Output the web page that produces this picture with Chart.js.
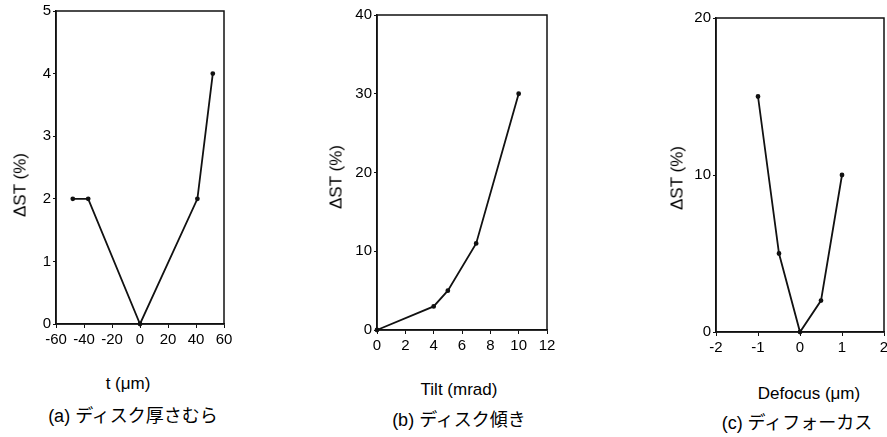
<!DOCTYPE html>
<html>
<head>
<meta charset="utf-8">
<script src="https://cdn.jsdelivr.net/npm/chart.js@4"></script>
<style>
  body { margin: 0; background: #fff; width: 887px; height: 437px; overflow: hidden; position: relative; font-family: "Liberation Sans", Arial, sans-serif; color: #000; }
  .box { position: absolute; }
  .lbl { position: absolute; font-size: 17px; line-height: 1; white-space: nowrap; transform: translateX(-50%); }
  .ylbl { position: absolute; font-size: 17px; line-height: 1; white-space: nowrap; transform: translate(-50%, -50%) rotate(-90deg); }
  .cap { position: absolute; font-size: 18px; line-height: 1; white-space: nowrap; transform: translateX(-50%); font-family: "Liberation Sans", "Noto Sans CJK JP", sans-serif; }
</style>
</head>
<body>
<div class="box" style="left:0px;top:0px;width:240px;height:345px"><canvas id="chartA"></canvas></div>
<div class="box" style="left:320px;top:0px;width:240px;height:351px"><canvas id="chartB"></canvas></div>
<div class="box" style="left:660px;top:0px;width:240px;height:353px"><canvas id="chartC"></canvas></div>

<div class="ylbl" style="left:20px;top:185px">ΔST (%)</div>
<div class="ylbl" style="left:336px;top:177px">ΔST (%)</div>
<div class="ylbl" style="left:677px;top:178px">ΔST (%)</div>

<div class="lbl" style="left:128px;top:375px">t (μm)</div>
<div class="lbl" style="left:459px;top:381px">Tilt (mrad)</div>
<div class="lbl" style="left:809px;top:385px">Defocus (μm)</div>

<div class="cap" style="left:133px;top:407px">(a) ディスク厚さむら</div>
<div class="cap" style="left:459px;top:411px">(b) ディスク傾き</div>
<div class="cap" style="left:797px;top:414px">(c) ディフォーカス</div>

<script>
// (a) ディスク厚さむら
const thicknessX = [-48, -37, 0, 41, 52];
const thicknessST = [2, 2, 0, 2, 4];
// (b) ディスク傾き
const tiltX = [0, 4, 5, 7, 10];
const tiltST = [0, 3, 5, 11, 30];
// (c) ディフォーカス
const defocusX = [-1, -0.5, 0, 0.5, 1];
const defocusST = [15, 5, 0, 2, 10];

const tickFont = { family: '"Liberation Sans", Arial, sans-serif', size: 15 };

// marco alrededor del área del gráfico
const framePlugin = {
    id: 'frame',
    afterDraw(chart) {
        const a = chart.chartArea;
        const ctx = chart.ctx;
        ctx.save();
        ctx.strokeStyle = '#111';
        ctx.lineWidth = 1.5;
        ctx.strokeRect(a.left, a.top, a.right - a.left, a.bottom - a.top);
        ctx.restore();
    }
};

function makeChart(id, xs, ys, xMin, xMax, xStep, yMax, yStep, yWidth, pad) {
    const ctx = document.getElementById(id).getContext('2d');
    return new Chart(ctx, {
        type: 'scatter',
        data: {
            datasets: [{
                data: xs.map((x, i) => ({ x: x, y: ys[i] })),
                showLine: true,
                borderColor: '#111',
                backgroundColor: '#111',
                borderWidth: 1.8,
                pointRadius: 1.5,
                pointHoverRadius: 1.5,
                clip: false
            }]
        },
        options: {
            responsive: true,
            maintainAspectRatio: false,
            animation: false,
            layout: { padding: pad },
            plugins: { legend: { display: false }, tooltip: { enabled: false } },
            scales: {
                x: {
                    type: 'linear', min: xMin, max: xMax,
                    ticks: { stepSize: xStep, color: '#000', font: tickFont, padding: 3, maxRotation: 0, autoSkip: false },
                    grid: { drawOnChartArea: false, tickLength: 4, color: '#111' },
                    border: { color: '#111', width: 1.5 },
                    afterFit(s) { s.height = 21; }
                },
                y: {
                    min: 0, max: yMax,
                    ticks: { stepSize: yStep, color: '#000', font: tickFont, padding: 2 },
                    grid: { drawOnChartArea: false, tickLength: 3, color: '#111' },
                    border: { color: '#111', width: 1.5 },
                    afterFit(s) { s.width = yWidth; }
                }
            }
        },
        plugins: [framePlugin]
    });
}

makeChart('chartA', thicknessX, thicknessST, -60, 60, 20, 5, 1, 56, { top: 10, right: 16, left: 0, bottom: 0 });
makeChart('chartB', tiltX, tiltST, 0, 12, 2, 40, 10, 57, { top: 15, right: 13, left: 0, bottom: 0 });
makeChart('chartC', defocusX, defocusST, -2, 2, 1, 20, 10, 56, { top: 18, right: 16, left: 0, bottom: 0 });
</script>
</body>
</html>
